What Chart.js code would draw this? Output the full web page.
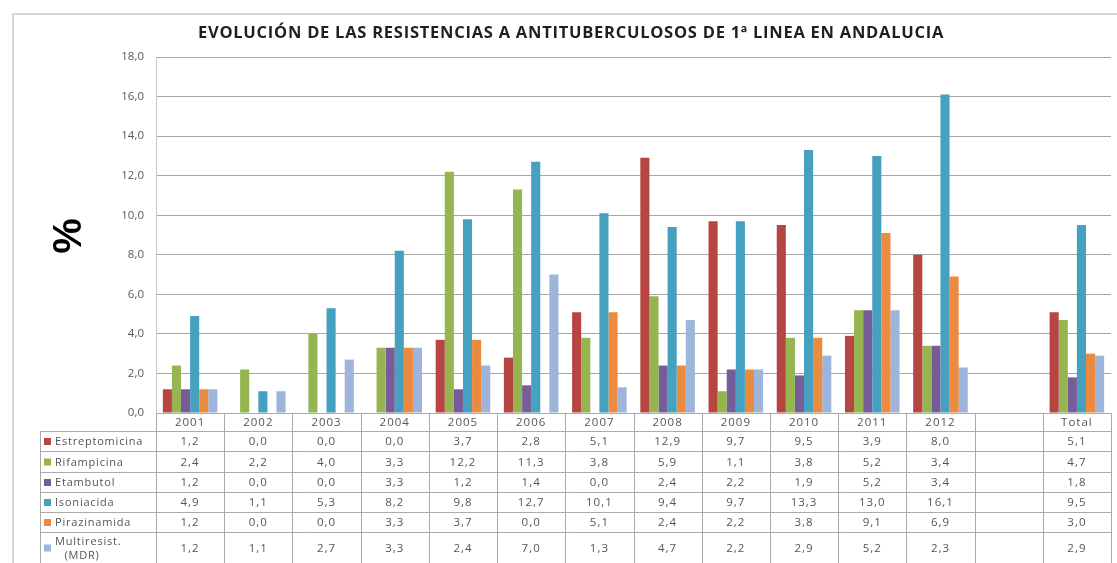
<!DOCTYPE html>
<html>
<head>
<meta charset="utf-8">
<script src="https://cdn.jsdelivr.net/npm/chart.js@4.4.1/dist/chart.umd.min.js"></script>
<style>
  body { margin: 0; background: #fff; }
  #wrap { width: 1117px; height: 563px; position: relative; }
</style>
</head>
<body>
<div id="wrap"><canvas id="chart" width="1117" height="563"></canvas></div>
<script>
// categories (blank column between 2012 and Total, like the original sheet)
const years = ['2001', '2002', '2003', '2004', '2005', '2006', '2007', '2008', '2009', '2010', '2011', '2012', '', 'Total'];

// % resistance per drug
const estreptomicina = [1.2, 0.0, 0.0, 0.0, 3.7, 2.8, 5.1, 12.9, 9.7, 9.5, 3.9, 8.0, null, 5.1];
const rifampicina    = [2.4, 2.2, 4.0, 3.3, 12.2, 11.3, 3.8, 5.9, 1.1, 3.8, 5.2, 3.4, null, 4.7];
const etambutol      = [1.2, 0.0, 0.0, 3.3, 1.2, 1.4, 0.0, 2.4, 2.2, 1.9, 5.2, 3.4, null, 1.8];
const isoniacida     = [4.9, 1.1, 5.3, 8.2, 9.8, 12.7, 10.1, 9.4, 9.7, 13.3, 13.0, 16.1, null, 9.5];
const pirazinamida   = [1.2, 0.0, 0.0, 3.3, 3.7, 0.0, 5.1, 2.4, 2.2, 3.8, 9.1, 6.9, null, 3.0];
const multiresist    = [1.2, 1.1, 2.7, 3.3, 2.4, 7.0, 1.3, 4.7, 2.2, 2.9, 5.2, 2.3, null, 2.9];

const seriesNames = ['Estreptomicina', 'Rifampicina', 'Etambutol', 'Isoniacida', 'Pirazinamida', 'Multiresist. (MDR)'];
const seriesData = [estreptomicina, rifampicina, etambutol, isoniacida, pirazinamida, multiresist];
const seriesColors = ['#B74643', '#94B550', '#765D98', '#46A0BF', '#EC8B3F', '#9DB5DA'];

const titleText = 'EVOLUCIÓN DE LAS RESISTENCIAS A ANTITUBERCULOSOS DE 1ª LINEA EN ANDALUCIA';

function fmt(v) {
    return v.toFixed(1).replace('.', ',');
}

// frame, title, "%" and the data table under the bars
const extrasPlugin = {
    id: 'extras',
    afterDraw(chart) {
        const ctx = chart.ctx;
        const area = chart.chartArea;
        const x = chart.scales.x;
        const colW = (area.right - area.left) / years.length;
        const tableLeft = 40;
        const rowTops = [area.bottom, 431, 451, 472, 492, 512, 532, 563];

        ctx.save();
        // outer frame
        ctx.strokeStyle = '#D6D6D6';
        ctx.lineWidth = 2;
        ctx.strokeRect(13, 14, 1117, 563);

        // title
        ctx.fillStyle = '#1F1F1F';
        ctx.font = 'bold 16.5px "Open Sans", sans-serif';
        ctx.letterSpacing = '0.75px';
        ctx.textAlign = 'center';
        ctx.textBaseline = 'middle';
        ctx.fillText(titleText, 571, 33);
        ctx.letterSpacing = '0px';

        // big % sign
        ctx.save();
        ctx.translate(70, 236);
        ctx.rotate(-Math.PI / 2);
        ctx.font = 'bold 40px "Liberation Sans", Arial, sans-serif';
        ctx.fillStyle = '#000';
        ctx.fillText('%', 0, 0);
        ctx.restore();

        // table grid
        ctx.strokeStyle = '#ABABAB';
        ctx.lineWidth = 1;
        ctx.beginPath();
        ctx.moveTo(area.left, rowTops[0] + 0.5);
        ctx.lineTo(area.right, rowTops[0] + 0.5);
        for (let r = 1; r < rowTops.length - 1; r++) {
            ctx.moveTo(tableLeft, rowTops[r] + 0.5);
            ctx.lineTo(area.right, rowTops[r] + 0.5);
        }
        ctx.moveTo(tableLeft + 0.5, rowTops[1]);
        ctx.lineTo(tableLeft + 0.5, 563);
        for (let c = 0; c <= years.length; c++) {
            const cx = Math.round(area.left + c * colW) + 0.5;
            ctx.moveTo(cx, rowTops[0]);
            ctx.lineTo(cx, 563);
        }
        ctx.stroke();

        // header row: years
        ctx.fillStyle = '#555';
        ctx.font = '11.5px "Open Sans", sans-serif';
        ctx.letterSpacing = '1px';
        ctx.textAlign = 'center';
        years.forEach((y, i) => {
            ctx.fillText(y, x.getPixelForValue(i), (rowTops[0] + rowTops[1]) / 2 + 1);
        });

        // legend column and values
        seriesNames.forEach((name, s) => {
            const top = rowTops[s + 1];
            const bottom = rowTops[s + 2];
            const mid = (top + bottom) / 2 + 1;
            ctx.fillStyle = seriesColors[s];
            ctx.fillRect(44, mid - 4, 7, 7);
            ctx.fillStyle = '#555';
            ctx.font = '11px "Open Sans", sans-serif';
            ctx.letterSpacing = '0.8px';
            if (name.indexOf('(') > 0) {
                ctx.textAlign = 'left';
                ctx.fillText('Multiresist.', 55, mid - 7);
                ctx.textAlign = 'center';
                ctx.fillText('(MDR)', 82, mid + 7);
            } else {
                ctx.textAlign = 'left';
                ctx.fillText(name, 55, mid);
            }
            ctx.textAlign = 'center';
            ctx.font = '11.5px "Open Sans", sans-serif';
            ctx.letterSpacing = '1px';
            seriesData[s].forEach((v, i) => {
                if (v === null) return;
                ctx.fillText(fmt(v), x.getPixelForValue(i), mid);
            });
        });
        ctx.restore();
    }
};

new Chart(document.getElementById('chart'), {
    type: 'bar',
    data: {
        labels: years,
        datasets: seriesNames.map((name, i) => ({
            label: name,
            data: seriesData[i],
            backgroundColor: seriesColors[i],
            borderWidth: 0,
            barPercentage: 1.0,
            categoryPercentage: 0.8
        }))
    },
    options: {
        responsive: false,
        animation: false,
        layout: {
            padding: { left: 0, top: 57, right: 6, bottom: 150 }
        },
        plugins: {
            legend: { display: false },
            title: { display: false },
            tooltip: { enabled: false }
        },
        scales: {
            x: {
                ticks: { display: false },
                grid: { display: false },
                border: { display: false },
                afterFit(scale) { scale.height = 0; }
            },
            y: {
                min: 0,
                max: 18,
                ticks: {
                    stepSize: 2,
                    color: '#595959',
                    font: { family: '"Open Sans", sans-serif', size: 11.5 },
                    padding: 12,
                    callback: (v) => fmt(v)
                },
                grid: { color: '#A6A6A6', lineWidth: 1, drawTicks: false },
                border: { display: true, color: '#C8C8C8' },
                afterFit(scale) { scale.width = 156; }
            }
        }
    },
    plugins: [extrasPlugin]
});
</script>
</body>
</html>
